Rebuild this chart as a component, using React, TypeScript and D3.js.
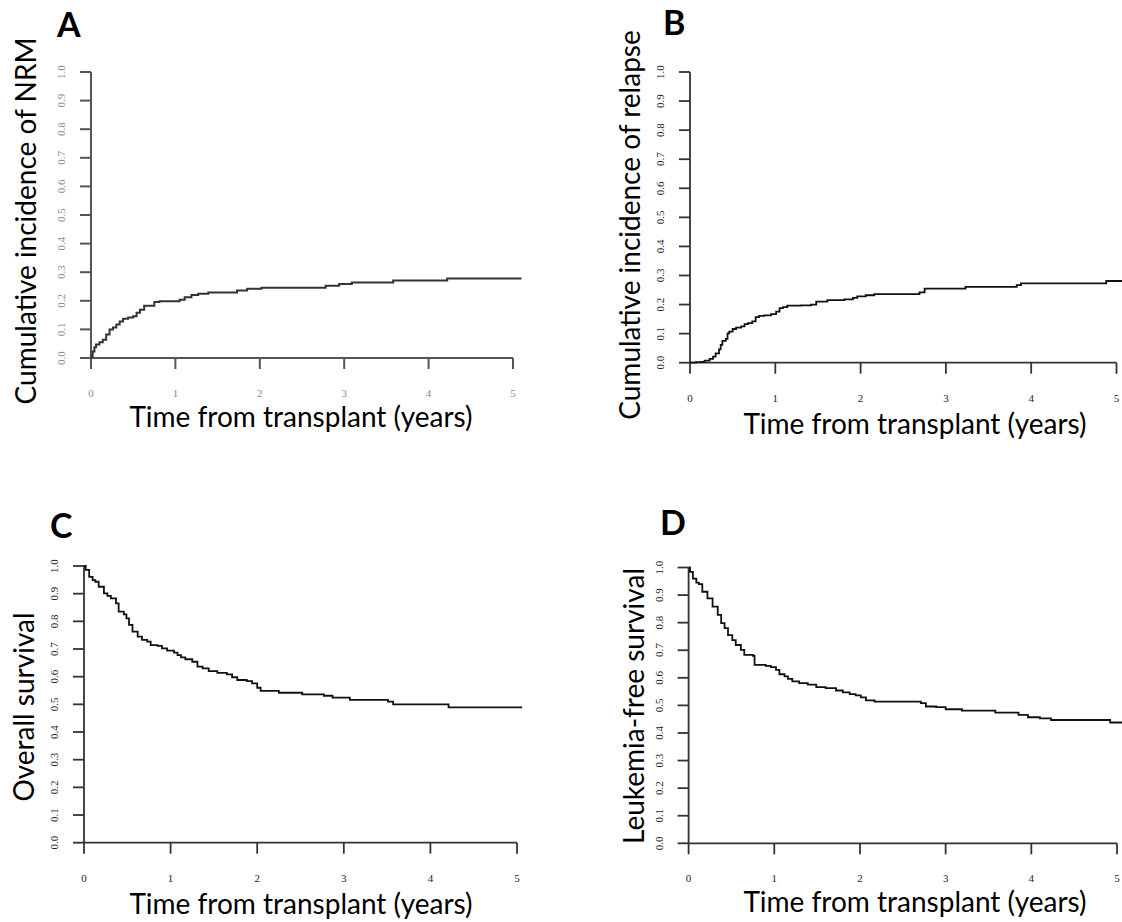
import React from 'react';
import * as d3 from 'd3';

// years from transplant, cumulative incidence / survival
const nrmCurve: [number, number][] = [
  [0, 0], [0.005, 0.006], [0.02, 0.023], [0.04, 0.038], [0.06, 0.047], [0.1, 0.055],
  [0.14, 0.064], [0.18, 0.082], [0.22, 0.1], [0.26, 0.107], [0.3, 0.117], [0.34, 0.128],
  [0.38, 0.137], [0.44, 0.142], [0.5, 0.146], [0.54, 0.158], [0.58, 0.169], [0.63, 0.183],
  [0.75, 0.196], [0.81, 0.198], [1.05, 0.204], [1.11, 0.212], [1.19, 0.22], [1.27, 0.225],
  [1.39, 0.229], [1.73, 0.236], [1.85, 0.242], [2.02, 0.246], [2.78, 0.253], [2.94, 0.259],
  [3.09, 0.264], [3.58, 0.271], [4.22, 0.278], [5.1, 0.278],
];

const relapseCurve: [number, number][] = [
  [0, 0], [0.07, 0.002], [0.13, 0.003], [0.17, 0.007], [0.23, 0.013], [0.27, 0.021],
  [0.3, 0.032], [0.34, 0.046], [0.36, 0.061], [0.38, 0.075], [0.42, 0.082], [0.44, 0.101],
  [0.46, 0.107], [0.5, 0.116], [0.54, 0.121], [0.6, 0.125], [0.64, 0.133], [0.68, 0.136],
  [0.73, 0.142], [0.77, 0.157], [0.81, 0.161], [0.87, 0.163], [0.95, 0.167], [1.01, 0.176],
  [1.05, 0.188], [1.09, 0.191], [1.14, 0.196], [1.3, 0.197], [1.42, 0.2], [1.48, 0.21],
  [1.61, 0.215], [1.81, 0.218], [1.91, 0.223], [1.96, 0.228], [2.06, 0.232], [2.16, 0.236],
  [2.69, 0.242], [2.75, 0.255], [3.23, 0.261], [3.83, 0.267], [3.88, 0.273], [4.88, 0.281],
  [5.1, 0.281],
];

const osCurve: [number, number][] = [
  [0, 1], [0.02, 0.986], [0.06, 0.961], [0.1, 0.949], [0.13, 0.943], [0.17, 0.925],
  [0.23, 0.901], [0.27, 0.892], [0.31, 0.883], [0.37, 0.865], [0.4, 0.835], [0.46, 0.825],
  [0.49, 0.811], [0.52, 0.787], [0.56, 0.763], [0.62, 0.745], [0.67, 0.733], [0.73, 0.727],
  [0.77, 0.714], [0.85, 0.711], [0.9, 0.702], [0.96, 0.694], [1.04, 0.687], [1.08, 0.678],
  [1.12, 0.67], [1.17, 0.663], [1.25, 0.654], [1.31, 0.636], [1.37, 0.63], [1.44, 0.62],
  [1.54, 0.614], [1.65, 0.608], [1.71, 0.598], [1.77, 0.588], [1.88, 0.584], [1.94, 0.576],
  [2.0, 0.56], [2.04, 0.549], [2.25, 0.542], [2.52, 0.536], [2.77, 0.531], [2.87, 0.524],
  [3.07, 0.516], [3.51, 0.51], [3.57, 0.5], [4.21, 0.489], [5.06, 0.489],
];

const lfsCurve: [number, number][] = [
  [0, 1], [0.016, 0.984], [0.05, 0.96], [0.09, 0.945], [0.12, 0.94], [0.16, 0.912],
  [0.22, 0.888], [0.28, 0.858], [0.34, 0.828], [0.38, 0.798], [0.42, 0.78], [0.46, 0.755],
  [0.51, 0.737], [0.55, 0.719], [0.61, 0.701], [0.65, 0.683], [0.75, 0.68], [0.77, 0.647],
  [0.9, 0.643], [0.96, 0.639], [1.02, 0.629], [1.06, 0.613], [1.12, 0.605], [1.16, 0.596],
  [1.21, 0.587], [1.29, 0.581], [1.39, 0.575], [1.49, 0.566], [1.6, 0.563], [1.72, 0.554],
  [1.8, 0.547], [1.88, 0.541], [1.95, 0.536], [2.01, 0.529], [2.07, 0.518], [2.17, 0.514],
  [2.71, 0.508], [2.77, 0.496], [2.89, 0.494], [3.0, 0.486], [3.19, 0.481], [3.58, 0.474],
  [3.85, 0.466], [3.96, 0.457], [4.1, 0.453], [4.23, 0.447], [4.92, 0.438], [5.1, 0.438],
];

const xTicks = [0, 1, 2, 3, 4, 5];
const yTicks = [0, 0.1, 0.2, 0.3, 0.4, 0.5, 0.6, 0.7, 0.8, 0.9, 1.0];

const panelLetters = ['A', 'B', 'C', 'D'];
const yTitles = [
  'Cumulative incidence of NRM',
  'Cumulative incidence of relapse',
  'Overall survival',
  'Leukemia-free survival',
];
const xTitle = 'Time from transplant (years)';
const curves = [nrmCurve, relapseCurve, osCurve, lfsCurve];

// pixel frame of each panel: x for 0 and 5 years, y for 0 and 1
const frames = [
  { x0: 91, x1: 513, y0: 358, y1: 72, letterX: 57, letterY: 37, yTitleX: 36, yTitleY: 221, xTitleX: 301, xTitleY: 427, faded: true },
  { x0: 690, x1: 1116.5, y0: 362.7, y1: 72, letterX: 663, letterY: 35, yTitleX: 640, yTitleY: 225, xTitleX: 915, xTitleY: 434, faded: false },
  { x0: 84, x1: 517, y0: 842.7, y1: 566, letterX: 50, letterY: 538, yTitleX: 34, yTitleY: 707, xTitleX: 301, xTitleY: 914, faded: false },
  { x0: 688.6, x1: 1117, y0: 843.3, y1: 567.5, letterX: 660, letterY: 535, yTitleX: 644, yTitleY: 706, xTitleX: 915, xTitleY: 912, faded: false },
];

const fmt = d3.format('.1f');
const sans = 'Lato, Carlito, "Open Sans", sans-serif';
const serif = '"Liberation Serif", "DejaVu Serif", serif';

function Panel({ i }: { i: number }) {
  const f = frames[i];
  const x = d3.scaleLinear().domain([0, 5]).range([f.x0, f.x1]);
  const y = d3.scaleLinear().domain([0, 1]).range([f.y0, f.y1]);
  const line = d3
    .line<[number, number]>()
    .x((d) => x(d[0]))
    .y((d) => y(d[1]))
    .curve(d3.curveStepAfter);

  const axisColor = f.faded ? '#555' : '#333';
  const axisW = f.faded ? 2 : 1.8;
  const labelColor = f.faded ? '#8a8a8a' : '#222';
  const curveColor = f.faded ? '#333' : '#111';
  const tick = 11;

  return (
    <g>
      <text x={f.letterX} y={f.letterY} fontFamily={sans} fontWeight={700} fontSize={34} fill="#000">
        {panelLetters[i]}
      </text>

      {/* axes */}
      <line x1={x(0)} x2={x(5)} y1={y(0)} y2={y(0)} stroke={axisColor} strokeWidth={axisW} />
      <line x1={x(0)} x2={x(0)} y1={y(0)} y2={y(1)} stroke={axisColor} strokeWidth={axisW} />
      {xTicks.map((t) => (
        <g key={'x' + t}>
          <line x1={x(t)} x2={x(t)} y1={y(0)} y2={y(0) + tick} stroke={axisColor} strokeWidth={axisW} />
          <text x={x(t)} y={y(0) + 39} textAnchor="middle" fontFamily={serif} fontSize={11} fill={labelColor}>
            {t}
          </text>
        </g>
      ))}
      {yTicks.map((t) => (
        <g key={'y' + t}>
          <line x1={x(0) - tick} x2={x(0)} y1={y(t)} y2={y(t)} stroke={axisColor} strokeWidth={axisW} />
          <text
            transform={`translate(${x(0) - 26},${y(t)}) rotate(-90)`}
            textAnchor="middle"
            fontFamily={serif}
            fontSize={11}
            fill={labelColor}
          >
            {fmt(t)}
          </text>
        </g>
      ))}

      <path d={line(curves[i]) ?? ''} fill="none" stroke={curveColor} strokeWidth={f.faded ? 2 : 1.8} />

      <text x={f.xTitleX} y={f.xTitleY} textAnchor="middle" fontFamily={sans} fontSize={28} fill="#000">
        {xTitle}
      </text>
      <text
        transform={`translate(${f.yTitleX},${f.yTitleY}) rotate(-90)`}
        textAnchor="middle"
        fontFamily={sans}
        fontSize={28}
        fill="#000"
      >
        {yTitles[i]}
      </text>
    </g>
  );
}

export default function App() {
  return (
    <svg
      width={1122}
      height={922}
      viewBox="0 0 1122 922"
      style={{ position: 'absolute', left: 0, top: 0, background: '#fff' }}
    >
      <rect width={1122} height={922} fill="#fff" />
      {panelLetters.map((_, i) => (
        <Panel key={i} i={i} />
      ))}
    </svg>
  );
}
